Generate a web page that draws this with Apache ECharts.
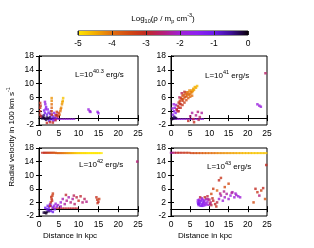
<!DOCTYPE html>
<html><head><meta charset="utf-8">
<script src="https://cdn.jsdelivr.net/npm/echarts@6/dist/echarts.min.js"></script>
<style>html,body{margin:0;padding:0;background:#fff}#c{width:314px;height:248px}</style>
</head><body><div id="c"></div>
<script>
// ---- tick labels / ranges ----
const xTicks = [0, 5, 10, 15, 20, 25];
const yTicks = [-2, 2, 6, 10, 14, 18];
const cbTicks = [-5, -4, -3, -2, -1, 0];
const luminosities = ['40.3', '41', '42', '43'];
// colour palette from log density -5 (left) to 0 (right)
const paletteColors = ['#ffe600','#f4ae00','#e27010','#d24a12','#c22a22','#b61e78','#a020d6','#8e20f0','#6c1cea','#3e0e98','#0a000a'];

// ---- data: [distance kpc, radial velocity (100 km/s), log10 rho] ----
const pointsL403 = [
 [1.0,0.3,-0.2],[1.5,-0.2,-0.1],[2.0,0.2,-0.3],[2.5,0.0,-0.1],[1.2,0.8,-0.4],[3.0,-0.3,-0.5],[1.8,-0.5,-0.3],[0.8,-0.1,-0.2],
 [1.3,0.0,-0.1],[2.2,-0.2,-0.2],[2.8,0.3,-0.4],[3.5,-0.1,-0.6],[4.0,0.1,-0.7],[0.6,0.5,-0.3],
 [1.5,1.5,-1.2],[2.2,2.5,-1.5],[1.6,4.0,-1.6],[1.5,4.7,-1.8],[1.8,3.2,-1.4],[3.2,1.0,-1.0],[3.5,0.5,-1.3],[4.0,-0.5,-1.5],
 [4.5,0.2,-1.8],[3.8,1.5,-1.7],[2.0,1.0,-1.0],[3.0,2.0,-1.2],[1.3,2.2,-1.3],[2.6,-0.8,-1.1],[2.4,1.6,-1.3],[1.7,2.6,-1.5],
 [2.8,1.2,-1.1],[4.3,1.0,-1.6],[3.6,-0.7,-1.4],
 [0.3,1.0,-3.0],[0.3,2.0,-3.0],[0.3,3.0,-3.1],[0.3,4.4,-3.2],[0.5,0.5,-2.9],[0.4,3.6,-3.1],
 [3.2,1.0,-3.4],[3.2,2.0,-3.6],[3.2,3.0,-3.8],[3.2,4.0,-4.0],[3.2,5.0,-4.2],[3.2,5.8,-4.3],
 [2.0,-1.4,-3.0],[2.8,-1.2,-3.1],[3.5,-1.3,-3.0],[4.2,0.8,-3.2],[4.5,1.8,-3.3],[4.2,-0.6,-2.8],[4.6,0.9,-3.0],
 [4.8,0.5,-3.2],[5.0,1.5,-3.3],[5.2,1.0,-3.8],[5.4,2.0,-4.0],[5.6,3.0,-4.2],[5.8,4.0,-4.3],[6.0,5.0,-4.5],[6.1,5.8,-4.7],
 [5.5,2.6,-4.1],[5.9,4.6,-4.4],
 [12.5,2.5,-1.8],[12.8,2.0,-1.9],[13.0,1.8,-1.8],[14.8,1.8,-1.7],[15.0,1.4,-1.6]
];
const flowL403 = [
 [2.8,-0.3,-1.8],[3.4,-0.3,-1.8],[4.0,-0.3,-1.8],[4.6,-0.3,-1.8],[5.2,-0.3,-1.8],[5.8,-0.3,-1.8],[6.4,-0.3,-1.8],[7.0,-0.3,-1.8],[7.6,-0.3,-1.8],[8.2,-0.3,-1.8],[8.8,-0.3,-1.8]
];
const pointsL41 = [
 [0.3,0.0,-0.1],[0.6,-0.2,-0.2],[1.0,0.1,-0.3],[1.3,0.0,-0.2],[0.8,0.4,-0.4],[0.2,-0.3,-0.1],
 [0.5,1.0,-1.5],[0.8,2.0,-1.6],[1.0,3.0,-1.7],[1.2,1.5,-1.4],[1.5,2.5,-2.0],[0.7,4.0,-1.8],[1.3,3.8,-1.9],[0.4,2.8,-1.6],
 [1.5,2.5,-3.0],[1.8,3.5,-3.1],[2.0,4.5,-3.2],[2.3,5.0,-3.3],[2.5,4.0,-3.1],[2.8,5.5,-3.4],[3.0,6.5,-3.5],[3.2,5.5,-3.6],
 [3.5,6.0,-3.7],[3.8,7.0,-3.8],[4.0,7.5,-3.9],[4.2,6.5,-4.0],[4.5,7.5,-4.1],[4.8,8.0,-4.2],[5.0,7.0,-4.1],[5.3,8.0,-4.3],
 [5.5,7.5,-4.2],[5.8,8.5,-4.4],[6.2,9.0,-4.5],[6.8,9.3,-4.6],[2.2,6.0,-2.6],[2.8,7.2,-2.7],[3.5,7.6,-3.0],
 [2.0,2.0,-2.9],[2.5,3.0,-3.0],[3.0,3.8,-3.2],[3.5,4.5,-3.3],[4.0,5.2,-3.5],[4.5,5.8,-3.7],[5.0,6.2,-3.9],[5.5,6.5,-4.0],
 [2.6,5.8,-3.3],[3.3,6.8,-3.6],[3.8,6.2,-3.5],[4.3,7.0,-3.8],[4.7,6.8,-3.9],[5.2,7.5,-4.1],[5.7,7.9,-4.3],[6.0,8.2,-4.4],
 [6.5,8.8,-4.5],[2.0,3.0,-3.0],[1.7,2.0,-2.8],[2.3,4.2,-3.1],[3.0,5.0,-3.3],
 [4.5,-0.8,-3.0],[5.0,0.5,-2.5],[5.5,1.5,-2.3],[6.0,-1.2,-3.1],[6.5,0.8,-2.4],[7.0,1.8,-2.5],[7.5,0.3,-2.6],[8.0,1.5,-2.3],
 [5.8,-0.3,-2.8],[7.2,-0.5,-2.7],
 [22.5,4.0,-1.8],[23.0,3.6,-1.9],[23.4,3.3,-1.8],[24.6,13.0,-2.6]
];
const flowL41 = [
 [1.0,-0.3,-1.8],[1.6,-0.3,-1.8],[2.2,-0.3,-1.8],[2.8,-0.3,-1.8],[3.4,-0.3,-1.8],[4.0,-0.3,-1.8],[4.6,-0.3,-1.8],[5.2,-0.3,-1.8],[5.8,-0.3,-1.8],[6.4,-0.3,-1.8],[7.0,-0.3,-1.8],[7.6,-0.3,-1.8],[8.2,-0.3,-1.8]
];
const pointsL42 = [
 [1.5,-1.0,-0.1],[2.0,-0.8,-0.2],[2.5,-0.6,-0.3],[1.8,-1.2,-0.1],[1.2,-1.0,-0.2],
 [2.0,0.0,-1.0],[2.5,0.5,-1.2],[3.0,1.0,-1.5],[3.5,0.5,-1.3],[4.0,0.0,-1.5],[4.5,0.8,-1.8],[3.0,-0.5,-1.1],[2.8,1.5,-1.4],
 [4.8,1.2,-2.0],[5.5,0.8,-2.1],[3.5,-0.8,-1.0],[2.2,1.0,-1.2],[4.2,1.6,-1.9],[1.6,0.4,-1.0],[2.4,-0.2,-0.9],[3.8,1.0,-1.6],
 [2.8,1.0,-3.0],[3.0,2.0,-3.1],[3.2,3.0,-3.2],[3.4,4.0,-3.3],[3.5,4.6,-3.3],[3.3,2.5,-3.0],[3.1,3.6,-3.2],
 [5.5,2.0,-2.0],[6.0,3.0,-2.2],[6.5,1.5,-2.3],[7.0,2.5,-2.4],[7.5,3.5,-2.2],[8.0,2.0,-2.5],[8.5,3.0,-2.3],[9.0,1.5,-2.6],
 [9.5,3.5,-2.8],[10.0,2.5,-3.0],[10.5,3.8,-2.9],[11.0,2.0,-2.5],[11.5,3.0,-2.7],[12.0,2.2,-2.4],[6.8,4.2,-2.9],[8.8,4.0,-2.7],
 [14.5,3.5,-3.1],[14.7,2.8,-3.2],[15.0,2.2,-3.0],[15.2,3.0,-3.3],[14.8,1.8,-3.1],[24.8,14.0,-2.5]
];
const flowL42 = [
 [3.5,0.3,-2.9],[4.1,0.3,-2.9],[4.7,0.3,-2.9],[5.3,0.3,-2.9],[5.9,0.3,-2.9],[6.5,0.3,-2.9],[7.1,0.3,-2.9],[7.7,0.3,-2.9],[8.3,0.3,-2.9],[8.9,0.3,-2.9],[9.5,0.3,-2.9]
];
const bandL42 = [
 [1.0,16.6,-3.0],[1.5,16.6,-3.1],[2.0,16.6,-3.2],[2.5,16.6,-3.3],[3.0,16.6,-3.4],[3.5,16.6,-3.5],[4.0,16.6,-3.6],[4.5,16.5,-3.7],
 [5.0,16.5,-3.8],[5.5,16.5,-3.9],[6.0,16.5,-4.0],[6.5,16.5,-4.1],[7.0,16.5,-4.2],[7.5,16.5,-4.3],[8.0,16.5,-4.4],[8.5,16.5,-4.5],
 [9.0,16.5,-4.6],[9.5,16.5,-4.7],[10.0,16.5,-4.8],[10.5,16.5,-4.8],[11.0,16.5,-4.9],[11.5,16.5,-4.9],[12.0,16.5,-4.9],[12.5,16.5,-5.0],
 [13.0,16.5,-5.0],[13.5,16.5,-5.0],[14.0,16.5,-5.0],[14.5,16.5,-5.0],[15.0,16.5,-5.0],[15.6,16.5,-5.0]
];
const pointsL43 = [
 [7.0,2.0,-1.5],[7.2,1.2,-1.6],[7.3,2.8,-1.8],[7.5,1.8,-1.4],[7.8,2.5,-1.5],[8.0,1.0,-1.7],[8.0,3.2,-2.0],[8.3,2.0,-1.3],
 [8.5,1.5,-1.5],[8.7,2.6,-1.6],[9.0,1.8,-1.8],[9.2,3.0,-2.2],[9.5,2.2,-2.0],[9.8,1.3,-2.1],[10.0,2.8,-2.5],[10.3,2.0,-2.6],
 [10.5,1.2,-2.8],[10.8,3.2,-3.0],[11.0,2.5,-2.9],[11.5,1.5,-3.0],[12.0,2.0,-2.8],[11.8,0.8,-3.1],[7.6,3.5,-2.8],[8.8,3.5,-3.0],
 [9.5,3.8,-2.8],[7.1,1.6,-1.2],[7.4,2.3,-1.3],[8.1,1.5,-1.4],[8.6,2.2,-1.7],[9.3,1.4,-1.9],
 [7.3,1.5,-1.2],[7.7,1.0,-1.3],[8.2,2.8,-1.6],[8.4,1.0,-1.5],[8.9,1.2,-1.6],[7.0,2.6,-1.7],[9.6,2.9,-2.3],[10.2,1.6,-2.5],
 [12.5,3.0,-2.0],[13.0,4.0,-2.2],[13.5,2.5,-1.9],[14.0,3.5,-2.1],[14.5,4.5,-2.3],[15.0,3.0,-2.0],[15.5,4.0,-1.9],[16.0,5.0,-2.2],
 [16.5,3.5,-2.0],[17.0,4.2,-2.1],[17.5,3.8,-1.8],[18.0,3.5,-2.0],[15.8,4.8,-2.3],[16.8,4.6,-2.0],[13.8,5.2,-2.4],[12.8,4.6,-2.5],
 [12.5,8.5,-3.0],[13.0,9.2,-3.2],[14.0,6.5,-3.5],[11.0,6.0,-3.3],[12.0,5.5,-3.8],[10.5,4.5,-3.5],[15.0,7.5,-3.5],
 [22.0,6.0,-3.0],[22.5,5.0,-3.2],[23.0,4.0,-2.5],[23.5,5.5,-3.4],[24.0,6.2,-3.0],[21.5,2.0,-3.5],[24.5,3.0,-3.6],[24.8,13.0,-3.0]
];
const bandL43 = [
 [0.2,16.6,-2.2],[0.8,16.6,-2.6],[1.5,16.6,-2.9],[2.2,16.6,-3.0],[3.0,16.6,-3.1],[3.8,16.6,-3.2],[4.6,16.6,-3.3],[5.4,16.5,-3.4],
 [6.2,16.5,-3.5],[7.0,16.5,-3.6],[7.8,16.5,-3.7],[8.6,16.5,-3.8],[9.4,16.5,-3.9],[10.2,16.5,-4.0],[11.0,16.5,-4.0],[11.8,16.5,-4.1],
 [12.6,16.5,-4.2],[13.4,16.5,-4.2],[14.2,16.5,-4.3],[15.0,16.5,-4.3],[15.8,16.5,-4.4],[16.6,16.5,-4.4],[17.4,16.5,-4.5],[18.2,16.5,-4.5],
 [19.0,16.5,-4.6],[19.8,16.5,-4.6],[20.6,16.5,-4.6],[21.4,16.5,-4.7],[22.2,16.5,-4.7],[23.0,16.5,-4.7],[23.8,16.5,-4.7],[24.6,16.5,-4.7]
];

const panelPoints = [pointsL403, pointsL41, pointsL42, pointsL43];
const panelLines = [flowL403, flowL41, flowL42, null];
const panelBands = [null, null, bandL42, bandL43];

// ---- layout ----
const FONT = 'Liberation Sans, Arial, sans-serif';
const FS = 8;
const grids = [
  {left: 39, top: 56, width: 99, height: 69},
  {left: 171, top: 56, width: 96, height: 69},
  {left: 39, top: 148, width: 99, height: 68},
  {left: 171, top: 148, width: 96, height: 68}
];
const labelPos = [[75, 73], [205, 74], [79, 163], [207, 165]];

const xMin = xTicks[0], xMax = xTicks[xTicks.length-1], xInt = xTicks[1]-xTicks[0];
const yMin = yTicks[0], yMax = yTicks[yTicks.length-1], yInt = yTicks[1]-yTicks[0];

const gridList = grids.map(g => Object.assign({show: true, borderColor: '#000', borderWidth: 1, backgroundColor: 'transparent'}, g));
gridList.push({left: 78, top: 31, width: 170, height: 4, show: true, borderColor: '#222', borderWidth: 1});

const tickStyle = {show: true, inside: true, length: 3, lineStyle: {color: '#000', width: 1}};
const xAxes = [], yAxes = [];
for (let i = 0; i < 4; i++) {
  xAxes.push({gridIndex: i, type: 'value', min: xMin, max: xMax, interval: xInt, position: 'bottom',
    axisLine: {show: true, lineStyle: {color: '#000', width: 1}}, axisTick: tickStyle, splitLine: {show: false},
    axisLabel: {fontFamily: FONT, fontSize: FS + 0.5, color: '#000', margin: 4}});
  yAxes.push({gridIndex: i, type: 'value', min: yMin, max: yMax, interval: yInt, position: 'left',
    axisLine: {show: true, lineStyle: {color: '#000', width: 1}}, axisTick: tickStyle, splitLine: {show: false},
    axisLabel: {fontFamily: FONT, fontSize: FS + 0.5, color: '#000', margin: 5}});
}
for (let i = 0; i < 4; i++) {
  xAxes.push({gridIndex: i, type: 'value', min: xMin, max: xMax, interval: xInt, position: 'top',
    axisLine: {show: true, lineStyle: {color: '#000'}}, axisTick: tickStyle, axisLabel: {show: false}, splitLine: {show: false}});
  yAxes.push({gridIndex: i, type: 'value', min: yMin, max: yMax, interval: yInt, position: 'right',
    axisLine: {show: true, lineStyle: {color: '#000'}}, axisTick: tickStyle, axisLabel: {show: false}, splitLine: {show: false}});
}
// colour bar axes
xAxes.push({gridIndex: 4, type: 'value', min: cbTicks[0], max: cbTicks[cbTicks.length-1], interval: cbTicks[1]-cbTicks[0], z: 5,
  axisLine: {show: false}, axisTick: {show: true, inside: true, length: 4, lineStyle: {color: '#222', width: 1}},
  splitLine: {show: false}, axisLabel: {fontFamily: FONT, fontSize: FS + 0.5, color: '#000', margin: 4}});
yAxes.push({gridIndex: 4, type: 'value', min: 0, max: 1, show: false});

const series = [];
const vmSeries = [];
for (let i = 0; i < 4; i++) {
  if (panelBands[i]) {
    vmSeries.push(series.length);
    series.push({type: 'scatter', xAxisIndex: i, yAxisIndex: i, data: panelBands[i], symbol: 'rect', symbolSize: [4, 2], silent: true, animation: false});
  }
  if (panelLines[i]) {
    vmSeries.push(series.length);
    series.push({type: 'scatter', xAxisIndex: i, yAxisIndex: i, data: panelLines[i], symbol: 'rect', symbolSize: [3, 1.5], silent: true, animation: false});
  }
  vmSeries.push(series.length);
  series.push({type: 'scatter', xAxisIndex: i, yAxisIndex: i, data: panelPoints[i], symbol: 'rect', symbolSize: 2.5, silent: true, animation: false});
}
// colour bar drawn through its axis
const stops = paletteColors.map((c, k) => ({offset: k / (paletteColors.length - 1), color: c}));
series.push({type: 'custom', xAxisIndex: 8, yAxisIndex: 8, data: [[cbTicks[0], cbTicks[cbTicks.length-1]]], silent: true, animation: false, z: 1,
  renderItem: function (params, api) {
    const p0 = api.coord([api.value(0), 0]);
    const p1 = api.coord([api.value(1), 1]);
    return {type: 'rect', shape: {x: p0[0], y: p1[1], width: p1[0]-p0[0], height: p0[1]-p1[1]},
      style: {fill: new echarts.graphic.LinearGradient(0, 0, 1, 0, stops)}};
  }});

const rich = {
  n: {fontFamily: FONT, fontSize: FS, fill: '#000', verticalAlign: 'bottom', lineHeight: 11},
  sup: {fontFamily: FONT, fontSize: 5.5, fill: '#000', verticalAlign: 'bottom', padding: [0, 0, 4, 0], lineHeight: 11},
  sub: {fontFamily: FONT, fontSize: 5.5, fill: '#000', verticalAlign: 'bottom', padding: [0, 0, -2, 0], lineHeight: 11}
};

const graphics = [];
luminosities.forEach((l, i) => {
  graphics.push({type: 'text', x: labelPos[i][0], y: labelPos[i][1], silent: true,
    style: {text: '{n|L=10}{sup|' + l + '}{n| erg/s}', rich: rich, align: 'left', verticalAlign: 'middle'}});
});
graphics.push({type: 'text', x: 163, y: 17, silent: true,
  style: {text: '{n|Log}{sub|10}{n|(ρ / m}{sub|p}{n| cm}{sup|-3}{n|)}', rich: rich, align: 'center', verticalAlign: 'middle'}});
graphics.push({type: 'text', x: 70, y: 236, silent: true,
  style: {text: 'Distance in kpc', fontFamily: FONT, fontSize: FS, fill: '#000', align: 'center', verticalAlign: 'middle'}});
graphics.push({type: 'text', x: 205, y: 236, silent: true,
  style: {text: 'Distance in kpc', fontFamily: FONT, fontSize: FS, fill: '#000', align: 'center', verticalAlign: 'middle'}});
graphics.push({type: 'text', x: 10, y: 137, rotation: Math.PI / 2, silent: true,
  style: {text: '{n|Radial velocity in 100 km s}{sup|-1}', rich: rich, align: 'center', verticalAlign: 'middle'}});

const chart = echarts.init(document.getElementById('c'), null, {renderer: 'canvas'});
chart.setOption({
  animation: false,
  backgroundColor: '#fff',
  grid: gridList,
  xAxis: xAxes,
  yAxis: yAxes,
  visualMap: {type: 'continuous', show: false, min: cbTicks[0], max: cbTicks[cbTicks.length-1], dimension: 2,
    seriesIndex: vmSeries, inRange: {color: paletteColors}},
  series: series,
  graphic: graphics
});
</script></body></html>
